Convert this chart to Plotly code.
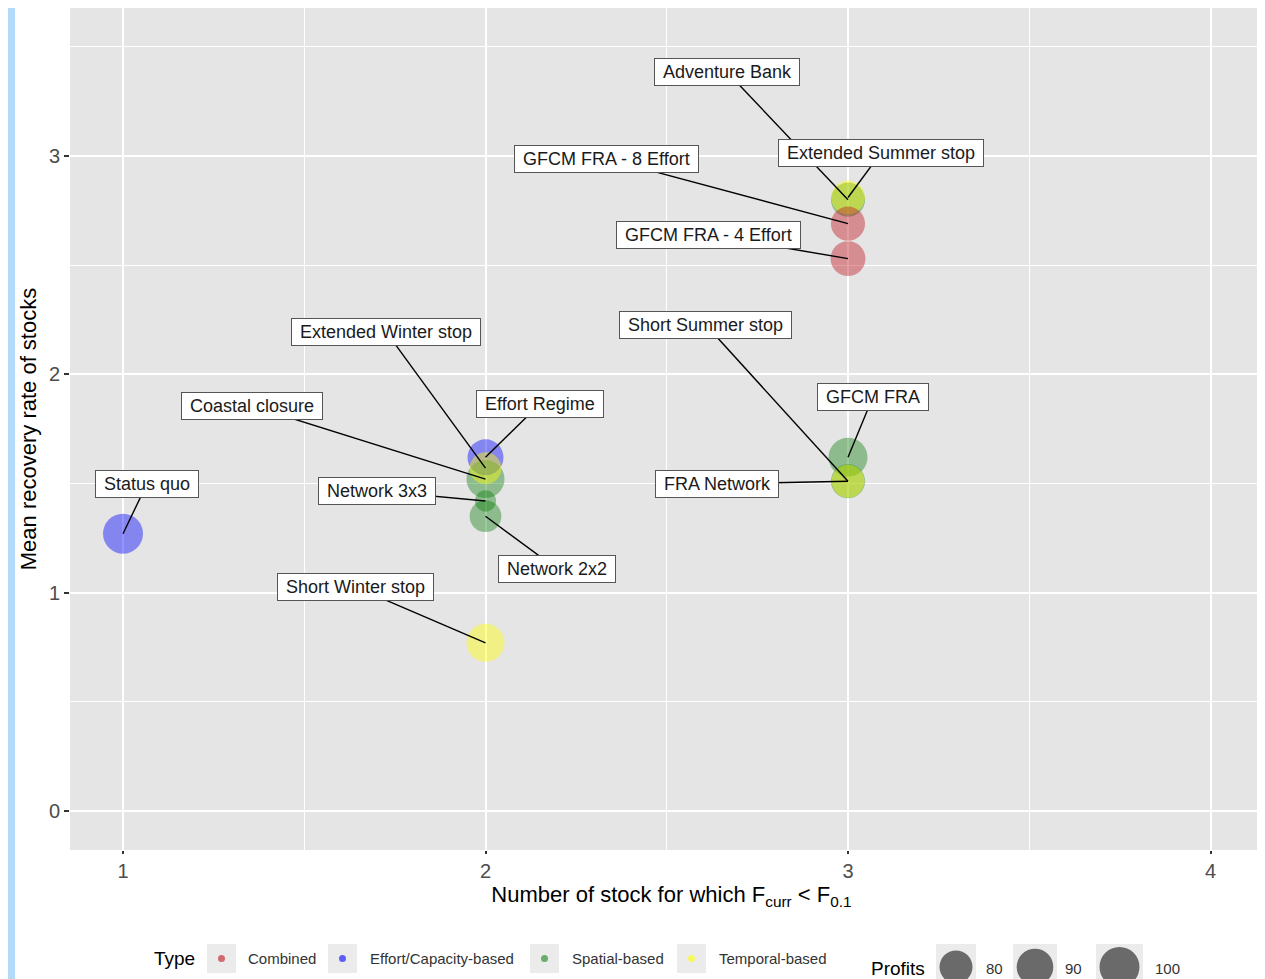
import math
import plotly.graph_objects as go

# ---------------- data ----------------
names = ["Status quo", "Effort Regime", "Coastal closure", "Network 2x2", "Network 3x3",
         "Extended Winter stop", "Short Winter stop", "Adventure Bank", "FRA Network",
         "GFCM FRA", "Extended Summer stop", "Short Summer stop",
         "GFCM FRA - 4 Effort", "GFCM FRA - 8 Effort"]
types = ["Effort/Capacity-based", "Effort/Capacity-based", "Spatial-based", "Spatial-based",
         "Spatial-based", "Temporal-based", "Temporal-based", "Spatial-based", "Spatial-based",
         "Spatial-based", "Temporal-based", "Temporal-based", "Combined", "Combined"]
n_stocks = [1, 2, 2, 2, 2, 2, 2, 3, 3, 3, 3, 3, 3, 3]
recovery = [1.27, 1.62, 1.52, 1.35, 1.42, 1.57, 0.77, 2.80, 1.51, 1.62, 2.81, 1.51, 2.53, 2.69]
profits = [100, 88, 94, 77, 55, 77, 94, 83, 83, 97, 82, 80, 85, 83]

type_levels = ["Combined", "Effort/Capacity-based", "Spatial-based", "Temporal-based"]
profit_breaks = [80, 90, 100]
x_ticks = [1, 2, 3, 4]
y_ticks = [0, 1, 2, 3]

# label placement (repelled label centres, data units)
label_x = [1.066, 2.150, 1.356, 2.197, 1.701, 1.726, 1.640, 2.666, 2.639, 3.069, 3.091, 2.608, 2.614, 2.335]
label_y = [1.498, 1.864, 1.855, 1.109, 1.466, 2.194, 1.026, 3.385, 1.498, 1.897, 3.014, 2.226, 2.639, 2.987]

# ---------------- styles ----------------
type_colors = {
    "Combined": "rgba(190,20,30,0.6)",
    "Effort/Capacity-based": "rgba(0,0,255,0.6)",
    "Spatial-based": "rgba(0,120,0,0.55)",
    "Temporal-based": "rgba(255,255,0,0.6)",
}
PANEL = "#E5E5E5"
FONT = "Liberation Sans, Arial, sans-serif"


def size_px(p):
    # area-proportional size scale (diameter in px)
    return math.sqrt(max(1089 + 25.5 * (p - 80), 16))


# the page adds an 8px body margin: layout below is given in screen pixels
OFF = 8
W, H = 1265, 979
# plot area in screen pixels
PL, PR, PT, PB = 70, W + OFF, 8, 850


def ppx(x):
    return (x - PL) / (PR - PL)


def ppy(y):
    return (PB - y) / (PB - PT)


x_lo = 1 - (123 - PL) / 362.5
x_hi = 1 + (PR - 123) / 362.5

fig = go.Figure()

fig.add_trace(go.Scatter(
    x=n_stocks, y=recovery, mode="markers",
    marker=dict(size=[size_px(p) for p in profits],
                color=[type_colors[t] for t in types],
                line=dict(width=0)),
    hoverinfo="text", text=names, showlegend=False))

# segments from labels to points
seg_x, seg_y = [], []
for lx, ly, x, y in zip(label_x, label_y, n_stocks, recovery):
    seg_x += [lx, x, None]
    seg_y += [ly, y, None]
fig.add_trace(go.Scatter(x=seg_x, y=seg_y, mode="lines",
                         line=dict(color="black", width=1.4),
                         hoverinfo="skip", showlegend=False))

annotations = []
for name, lx, ly in zip(names, label_x, label_y):
    annotations.append(dict(
        x=lx, y=ly, xref="x", yref="y", text="\u00a0" + name + "\u00a0",
        showarrow=False, font=dict(family=FONT, size=18, color="#1a1a1a"),
        bgcolor="white", bordercolor="#555555", borderwidth=1, borderpad=3,
        xanchor="center", yanchor="middle"))

shapes = []
# light blue strip at left edge of the picture
shapes.append(dict(type="rect", xref="paper", yref="paper",
                   x0=ppx(-20), x1=ppx(15), y0=ppy(1000), y1=ppy(-20),
                   fillcolor="#B4DAF9", line=dict(width=0), layer="below"))

# ---- Type legend ----
annotations.append(dict(x=ppx(152), y=ppy(958), xref="paper", yref="paper", text="Type",
                        showarrow=False, xanchor="left", yanchor="middle",
                        font=dict(family=FONT, size=19, color="black")))
key_left = [207, 328, 530, 677]
text_left = [246, 368, 570, 717]
for lvl, kl, tl in zip(type_levels, key_left, text_left):
    shapes.append(dict(type="rect", xref="paper", yref="paper",
                       x0=ppx(kl), x1=ppx(kl + 29), y0=ppy(973), y1=ppy(944),
                       fillcolor="#EBEBEB", line=dict(width=0)))
    shapes.append(dict(type="circle", xref="paper", yref="paper",
                       xsizemode="pixel", ysizemode="pixel",
                       xanchor=ppx(kl + 14.5), yanchor=ppy(958.5),
                       x0=-3.5, x1=3.5, y0=-3.5, y1=3.5,
                       fillcolor=type_colors[lvl], line=dict(width=0)))
    annotations.append(dict(x=ppx(tl), y=ppy(958), xref="paper", yref="paper", text=lvl,
                            showarrow=False, xanchor="left", yanchor="middle",
                            font=dict(family=FONT, size=15, color="#333333")))

# ---- Profits legend ----
annotations.append(dict(x=ppx(869), y=ppy(968), xref="paper", yref="paper", text="Profits",
                        showarrow=False, xanchor="left", yanchor="middle",
                        font=dict(family=FONT, size=19, color="black")))
pk_left = [936, 1013, 1096]
pk_width = [40, 44, 47]
pt_left = [984, 1063, 1153]
for br, kl, kw, tl in zip(profit_breaks, pk_left, pk_width, pt_left):
    shapes.append(dict(type="rect", xref="paper", yref="paper",
                       x0=ppx(kl), x1=ppx(kl + kw), y0=ppy(990), y1=ppy(944),
                       fillcolor="#EBEBEB", line=dict(width=0)))
    r = size_px(br) / 2
    shapes.append(dict(type="circle", xref="paper", yref="paper",
                       xsizemode="pixel", ysizemode="pixel",
                       xanchor=ppx(kl + kw / 2), yanchor=ppy(967),
                       x0=-r, x1=r, y0=-r, y1=r,
                       fillcolor="rgba(0,0,0,0.55)", line=dict(width=0)))
    annotations.append(dict(x=ppx(tl), y=ppy(968), xref="paper", yref="paper", text=str(br),
                            showarrow=False, xanchor="left", yanchor="middle",
                            font=dict(family=FONT, size=15, color="#333333")))

fig.update_layout(
    width=W, height=H,
    margin=dict(l=PL - OFF, r=W - (PR - OFF), t=PT - OFF, b=H - (PB - OFF), autoexpand=False),
    paper_bgcolor="white", plot_bgcolor=PANEL,
    font=dict(family=FONT),
    annotations=annotations, shapes=shapes,
    showlegend=False,
)
fig.update_xaxes(
    range=[x_lo, x_hi], tickvals=x_ticks, ticktext=[str(v) for v in x_ticks],
    showgrid=True, gridcolor="white", gridwidth=2, zeroline=False,
    minor=dict(dtick=0.5, tick0=0.5, showgrid=True, gridcolor="white", gridwidth=1, ticks=""),
    ticks="outside", ticklen=3, tickwidth=1.5, tickcolor="#333333",
    tickfont=dict(family=FONT, size=20, color="#4D4D4D"),
    title=dict(text="Number of stock for which F<sub>curr</sub> &lt; F<sub>0.1</sub>",
               font=dict(family=FONT, size=22, color="black"), standoff=4),
    showline=False,
)
fig.update_yaxes(
    range=[-0.179, 3.678], tickvals=y_ticks, ticktext=[str(v) for v in y_ticks],
    showgrid=True, gridcolor="white", gridwidth=2, zeroline=False,
    minor=dict(dtick=0.5, tick0=0.5, showgrid=True, gridcolor="white", gridwidth=1, ticks=""),
    ticks="outside", ticklen=5, tickwidth=1.5, tickcolor="#333333",
    tickfont=dict(family=FONT, size=20, color="#4D4D4D"),
    title=dict(text="Mean recovery rate of stocks",
               font=dict(family=FONT, size=22, color="black"), standoff=6),
    showline=False,
)

fig.write_html("out.html")
